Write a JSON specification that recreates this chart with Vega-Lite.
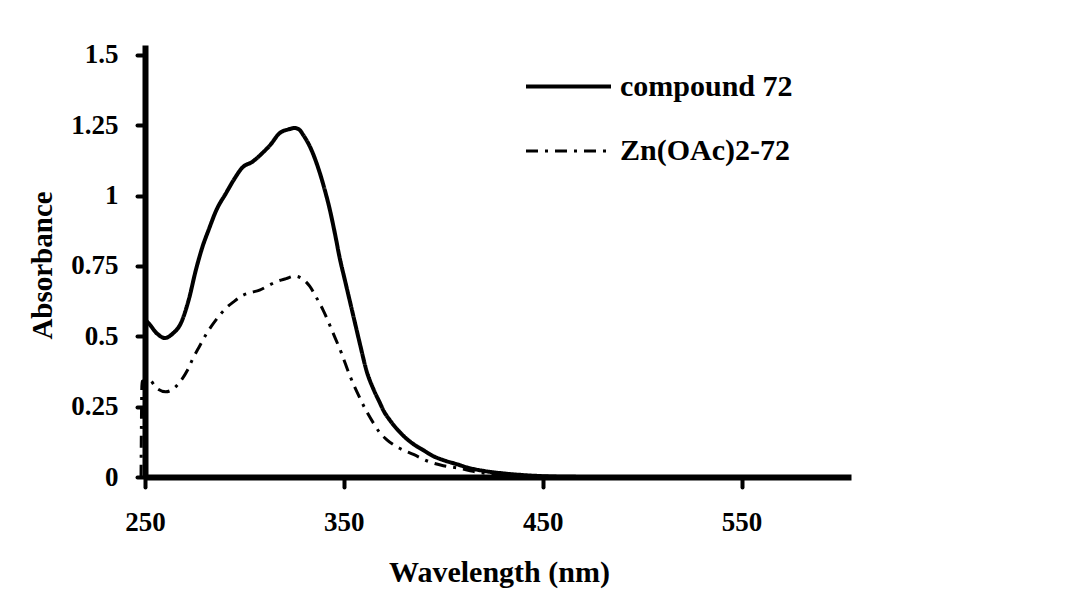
{
  "$schema": "https://vega.github.io/schema/vega-lite/v6.json",
  "autosize": {"type": "none"},
  "padding": {"left": 145, "top": 45, "right": 236, "bottom": 122},
  "width": 706,
  "height": 432,
  "background": "white",
  "config": {
    "view": {"stroke": null},
    "font": "Liberation Serif",
    "axis": {"grid": false, "domainColor": "black", "tickColor": "black", "labelColor": "black", "titleColor": "black", "labelFont": "Liberation Serif", "titleFont": "Liberation Serif", "labelFontWeight": "bold", "titleFontWeight": "bold"},
    "legend": {"labelFont": "Liberation Serif", "labelFontWeight": "bold", "labelColor": "black", "labelLimit": 0}
  },
  "data": {"values": [
    {"wl": 250, "a": 0.56, "s": "compound 72"},
    {"wl": 252, "a": 0.545, "s": "compound 72"},
    {"wl": 256, "a": 0.51, "s": "compound 72"},
    {"wl": 260, "a": 0.494, "s": "compound 72"},
    {"wl": 264, "a": 0.51, "s": "compound 72"},
    {"wl": 268, "a": 0.546, "s": "compound 72"},
    {"wl": 272, "a": 0.63, "s": "compound 72"},
    {"wl": 275.6, "a": 0.736, "s": "compound 72"},
    {"wl": 279, "a": 0.82, "s": "compound 72"},
    {"wl": 282, "a": 0.878, "s": "compound 72"},
    {"wl": 286, "a": 0.95, "s": "compound 72"},
    {"wl": 290.7, "a": 1.008, "s": "compound 72"},
    {"wl": 295, "a": 1.06, "s": "compound 72"},
    {"wl": 299, "a": 1.1, "s": "compound 72"},
    {"wl": 304, "a": 1.12, "s": "compound 72"},
    {"wl": 309, "a": 1.151, "s": "compound 72"},
    {"wl": 313, "a": 1.18, "s": "compound 72"},
    {"wl": 317.7, "a": 1.222, "s": "compound 72"},
    {"wl": 322, "a": 1.235, "s": "compound 72"},
    {"wl": 325.3, "a": 1.24, "s": "compound 72"},
    {"wl": 327.5, "a": 1.235, "s": "compound 72"},
    {"wl": 329.5, "a": 1.216, "s": "compound 72"},
    {"wl": 333.7, "a": 1.162, "s": "compound 72"},
    {"wl": 337, "a": 1.1, "s": "compound 72"},
    {"wl": 340.4, "a": 1.02, "s": "compound 72"},
    {"wl": 342.9, "a": 0.951, "s": "compound 72"},
    {"wl": 345.5, "a": 0.865, "s": "compound 72"},
    {"wl": 348, "a": 0.775, "s": "compound 72"},
    {"wl": 350.5, "a": 0.7, "s": "compound 72"},
    {"wl": 353, "a": 0.625, "s": "compound 72"},
    {"wl": 355.5, "a": 0.55, "s": "compound 72"},
    {"wl": 358, "a": 0.475, "s": "compound 72"},
    {"wl": 361.5, "a": 0.375, "s": "compound 72"},
    {"wl": 365, "a": 0.31, "s": "compound 72"},
    {"wl": 368, "a": 0.265, "s": "compound 72"},
    {"wl": 370, "a": 0.235, "s": "compound 72"},
    {"wl": 373, "a": 0.203, "s": "compound 72"},
    {"wl": 377, "a": 0.168, "s": "compound 72"},
    {"wl": 381.7, "a": 0.135, "s": "compound 72"},
    {"wl": 386, "a": 0.112, "s": "compound 72"},
    {"wl": 390, "a": 0.095, "s": "compound 72"},
    {"wl": 395, "a": 0.074, "s": "compound 72"},
    {"wl": 400, "a": 0.06, "s": "compound 72"},
    {"wl": 407, "a": 0.045, "s": "compound 72"},
    {"wl": 412, "a": 0.034, "s": "compound 72"},
    {"wl": 420, "a": 0.022, "s": "compound 72"},
    {"wl": 430, "a": 0.013, "s": "compound 72"},
    {"wl": 440, "a": 0.007, "s": "compound 72"},
    {"wl": 450, "a": 0.003, "s": "compound 72"},
    {"wl": 460, "a": 0.001, "s": "compound 72"},
    {"wl": 480, "a": 0, "s": "compound 72"},
    {"wl": 540, "a": 0, "s": "compound 72"},
    {"wl": 605, "a": 0, "s": "compound 72"},
    {"wl": 248, "a": 0, "s": "Zn(OAc)2-72"},
    {"wl": 248.5, "a": 0.34, "s": "Zn(OAc)2-72"},
    {"wl": 252, "a": 0.345, "s": "Zn(OAc)2-72"},
    {"wl": 256, "a": 0.315, "s": "Zn(OAc)2-72"},
    {"wl": 260.4, "a": 0.303, "s": "Zn(OAc)2-72"},
    {"wl": 264, "a": 0.312, "s": "Zn(OAc)2-72"},
    {"wl": 267, "a": 0.333, "s": "Zn(OAc)2-72"},
    {"wl": 271.4, "a": 0.38, "s": "Zn(OAc)2-72"},
    {"wl": 274, "a": 0.42, "s": "Zn(OAc)2-72"},
    {"wl": 277.3, "a": 0.463, "s": "Zn(OAc)2-72"},
    {"wl": 281, "a": 0.51, "s": "Zn(OAc)2-72"},
    {"wl": 285.7, "a": 0.558, "s": "Zn(OAc)2-72"},
    {"wl": 290.7, "a": 0.6, "s": "Zn(OAc)2-72"},
    {"wl": 295, "a": 0.625, "s": "Zn(OAc)2-72"},
    {"wl": 299, "a": 0.645, "s": "Zn(OAc)2-72"},
    {"wl": 303, "a": 0.655, "s": "Zn(OAc)2-72"},
    {"wl": 307.6, "a": 0.664, "s": "Zn(OAc)2-72"},
    {"wl": 312, "a": 0.68, "s": "Zn(OAc)2-72"},
    {"wl": 316, "a": 0.694, "s": "Zn(OAc)2-72"},
    {"wl": 321, "a": 0.705, "s": "Zn(OAc)2-72"},
    {"wl": 325.3, "a": 0.714, "s": "Zn(OAc)2-72"},
    {"wl": 329, "a": 0.705, "s": "Zn(OAc)2-72"},
    {"wl": 332.8, "a": 0.678, "s": "Zn(OAc)2-72"},
    {"wl": 336, "a": 0.64, "s": "Zn(OAc)2-72"},
    {"wl": 339.5, "a": 0.594, "s": "Zn(OAc)2-72"},
    {"wl": 344.6, "a": 0.511, "s": "Zn(OAc)2-72"},
    {"wl": 348.8, "a": 0.44, "s": "Zn(OAc)2-72"},
    {"wl": 353, "a": 0.36, "s": "Zn(OAc)2-72"},
    {"wl": 356.4, "a": 0.305, "s": "Zn(OAc)2-72"},
    {"wl": 361.5, "a": 0.232, "s": "Zn(OAc)2-72"},
    {"wl": 365, "a": 0.19, "s": "Zn(OAc)2-72"},
    {"wl": 368, "a": 0.158, "s": "Zn(OAc)2-72"},
    {"wl": 371.5, "a": 0.133, "s": "Zn(OAc)2-72"},
    {"wl": 378, "a": 0.102, "s": "Zn(OAc)2-72"},
    {"wl": 385, "a": 0.08, "s": "Zn(OAc)2-72"},
    {"wl": 393, "a": 0.054, "s": "Zn(OAc)2-72"},
    {"wl": 400, "a": 0.04, "s": "Zn(OAc)2-72"},
    {"wl": 408, "a": 0.031, "s": "Zn(OAc)2-72"},
    {"wl": 415, "a": 0.02, "s": "Zn(OAc)2-72"},
    {"wl": 425, "a": 0.01, "s": "Zn(OAc)2-72"},
    {"wl": 440, "a": 0.004, "s": "Zn(OAc)2-72"},
    {"wl": 460, "a": 0, "s": "Zn(OAc)2-72"},
    {"wl": 605, "a": 0, "s": "Zn(OAc)2-72"}
  ]},
  "mark": {"type": "line", "color": "black", "clip": false, "strokeCap": "butt", "interpolate": "monotone"},
  "encoding": {
    "x": {
      "field": "wl", "type": "quantitative",
      "scale": {"domain": [250, 605], "nice": false, "zero": false},
      "axis": {
        "title": "Wavelength (nm)", "values": [250, 350, 450, 550],
        "domainWidth": 6, "tickWidth": 4, "tickSize": 10, "tickCap": "round",
        "labelFontSize": 27, "labelPadding": 22, "labelFlush": false,
        "titleFontSize": 30, "titleX": 354, "titleY": 95, "titleBaseline": "middle", "titleAlign": "center"
      }
    },
    "y": {
      "field": "a", "type": "quantitative",
      "scale": {"domain": [0, 1.535], "nice": false},
      "axis": {
        "title": "Absorbance", "values": [0, 0.25, 0.5, 0.75, 1, 1.25, 1.5], "format": ".2~f",
        "domainWidth": 6, "tickWidth": 4, "tickSize": 8, "tickCap": "round",
        "labelFontSize": 27, "labelPadding": 19, "labelFlush": false,
        "titleFontSize": 29, "titleX": -103, "titleY": 220, "titleAngle": -90, "titleBaseline": "middle", "titleAlign": "center"
      }
    },
    "strokeDash": {
      "field": "s", "type": "nominal",
      "scale": {"domain": ["compound 72", "Zn(OAc)2-72"], "range": [[1, 0], [12, 7, 3, 7]]},
      "legend": {
        "title": null, "orient": "none", "legendX": 379, "legendY": -3,
        "symbolType": "stroke", "symbolSize": 7225, "symbolStrokeColor": "black",
        "labelFontSize": 30, "labelFont": "Liberation Serif", "labelFontWeight": "bold", "labelColor": "black", "labelLimit": 0,
        "labelOffset": 7, "rowPadding": 5, "padding": 0
      }
    },
    "strokeWidth": {
      "field": "s", "type": "nominal",
      "scale": {"domain": ["compound 72", "Zn(OAc)2-72"], "range": [4, 3]},
      "legend": null
    }
  }
}
